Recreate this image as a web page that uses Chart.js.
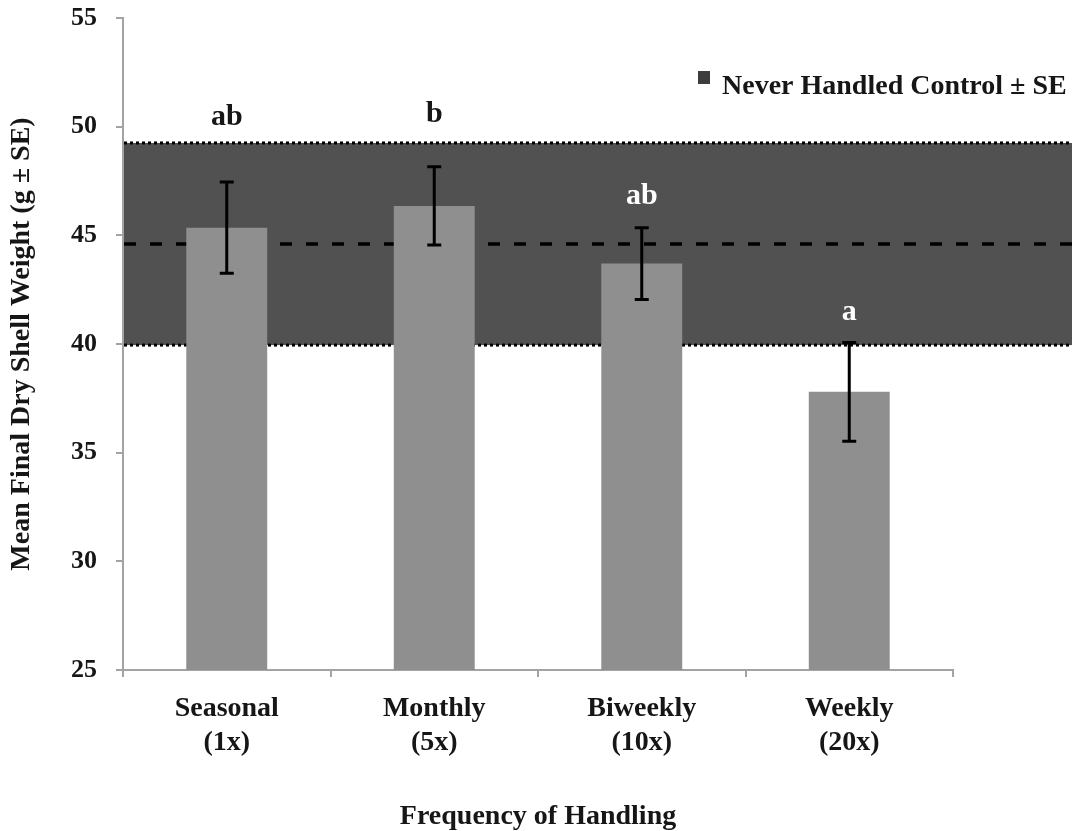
<!DOCTYPE html>
<html>
<head>
<meta charset="utf-8">
<script src="https://cdn.jsdelivr.net/npm/chart.js@4.4.1/dist/chart.umd.min.js"></script>
<style>
  html, body { margin: 0; padding: 0; background: #fff; }
  #wrap { width: 1081px; height: 831px; }
</style>
</head>
<body>
<div id="wrap"><canvas id="c" width="1081" height="831"></canvas></div>
<script>
// Handling frequency groups and their mean final dry shell weight (g) with SE
const categories = [['Seasonal', '(1x)'], ['Monthly', '(5x)'], ['Biweekly', '(10x)'], ['Weekly', '(20x)']];
const meanWeight = [45.35, 46.35, 43.7, 37.8];
const seWeight = [2.1, 1.8, 1.65, 2.27];

// Significance group letters and the y value each letter sits at
const groupLetters = ['ab', 'b', 'ab', 'a'];
const letterAt = [50.45, 50.55, 46.8, 41.45];

// Never-handled control: mean and SE (drawn as a shaded band)
const controlMean = 44.6;
const controlSE = 4.65;
const controlLabel = 'Never Handled Control \u00b1 SE';

const yTicks = [25, 30, 35, 40, 45, 50, 55];

const SERIF = '"Liberation Serif", "Times New Roman", serif';
const AXIS_GRAY = '#a3a3a3';
const TEXT = '#161616';

// Shaded control band with dotted SE edges and a dashed mean line, behind the bars
const controlBand = {
  id: 'controlBand',
  beforeDatasetsDraw(chart) {
    const { ctx, chartArea: a, scales: { y } } = chart;
    const right = chart.width - 9;
    const top = y.getPixelForValue(controlMean + controlSE);
    const bot = y.getPixelForValue(controlMean - controlSE);
    const mid = y.getPixelForValue(controlMean);
    ctx.save();
    ctx.fillStyle = '#515151';
    ctx.fillRect(a.left + 1, top, right - a.left - 1, bot - top);

    ctx.strokeStyle = '#000';
    ctx.lineWidth = 3;
    ctx.setLineDash([3, 3]);
    [top, bot].forEach(py => {
      ctx.beginPath();
      ctx.moveTo(a.left + 1, py);
      ctx.lineTo(right, py);
      ctx.stroke();
    });

    ctx.lineWidth = 3.5;
    ctx.setLineDash([12, 14]);
    ctx.beginPath();
    ctx.moveTo(a.left + 1, mid);
    ctx.lineTo(right, mid);
    ctx.stroke();
    ctx.restore();
  }
};

// Error bars (mean ± SE) and group letters above the bars
const errorBarsAndLetters = {
  id: 'errorBarsAndLetters',
  afterDatasetsDraw(chart) {
    const { ctx, scales: { y } } = chart;
    const meta = chart.getDatasetMeta(0);
    ctx.save();
    meta.data.forEach((bar, i) => {
      const x = bar.x;
      const yHi = y.getPixelForValue(meanWeight[i] + seWeight[i]);
      const yLo = y.getPixelForValue(meanWeight[i] - seWeight[i]);
      ctx.strokeStyle = '#000';
      ctx.lineWidth = 3;
      ctx.beginPath();
      ctx.moveTo(x, yHi);
      ctx.lineTo(x, yLo);
      ctx.moveTo(x - 7, yHi);
      ctx.lineTo(x + 7, yHi);
      ctx.moveTo(x - 7, yLo);
      ctx.lineTo(x + 7, yLo);
      ctx.stroke();

      const ly = y.getPixelForValue(letterAt[i]);
      const insideBand = letterAt[i] < controlMean + controlSE && letterAt[i] > controlMean - controlSE;
      ctx.fillStyle = insideBand ? '#ffffff' : TEXT;
      ctx.font = 'bold 30px ' + SERIF;
      ctx.textAlign = 'center';
      ctx.textBaseline = 'middle';
      ctx.fillText(groupLetters[i], x, ly);
    });
    ctx.restore();
  }
};

// Legend entry for the control band, top right
const controlLegend = {
  id: 'controlLegend',
  afterDraw(chart) {
    const { ctx } = chart;
    const x = chart.width - 383;
    const cy = 86;
    ctx.save();
    ctx.fillStyle = '#3d3d3d';
    ctx.fillRect(x, cy - 15, 12, 13);
    ctx.fillStyle = TEXT;
    ctx.font = 'bold 28px ' + SERIF;
    ctx.textAlign = 'left';
    ctx.textBaseline = 'middle';
    ctx.fillText(controlLabel, x + 24, cy + 1);
    ctx.restore();
  }
};

new Chart(document.getElementById('c'), {
  type: 'bar',
  data: {
    labels: categories,
    datasets: [{
      label: 'Mean final dry shell weight',
      data: meanWeight,
      backgroundColor: '#8f8f8f',
      borderWidth: 0,
      barPercentage: 0.39,
      categoryPercentage: 1.0
    }]
  },
  options: {
    responsive: false,
    animation: false,
    devicePixelRatio: 1,
    layout: { padding: { top: 18, right: 128, bottom: 0, left: 0 } },
    plugins: {
      legend: { display: false },
      tooltip: { enabled: false }
    },
    scales: {
      x: {
        grid: { display: true, drawOnChartArea: false, drawTicks: true, tickLength: 7, color: AXIS_GRAY, lineWidth: 2, offset: true },
        border: { color: AXIS_GRAY, width: 2 },
        ticks: {
          font: { family: SERIF, weight: 'bold', size: 28, lineHeight: 1.2 },
          color: TEXT, padding: 15, maxRotation: 0, autoSkip: false
        },
        title: {
          display: true, text: 'Frequency of Handling', color: TEXT,
          font: { family: SERIF, weight: 'bold', size: 28, lineHeight: 1 },
          padding: { top: 0, bottom: 0 }
        },
        afterFit(s) { s.height = 161; s.paddingLeft = 0; s.paddingRight = 0; }
      },
      y: {
        min: 25, max: 55,
        afterBuildTicks(s) { s.ticks = yTicks.map(v => ({ value: v })); },
        grid: { display: true, drawOnChartArea: false, drawTicks: true, tickLength: 7, color: AXIS_GRAY, lineWidth: 2 },
        border: { color: AXIS_GRAY, width: 2 },
        ticks: {
          font: { family: SERIF, weight: 'bold', size: 26 },
          color: TEXT, padding: 19
        },
        title: {
          display: true, text: 'Mean Final Dry Shell Weight (g \u00b1 SE)', color: TEXT,
          font: { family: SERIF, weight: 'bold', size: 28, lineHeight: 1 },
          padding: { top: 8, bottom: 0 }
        },
        afterFit(s) { s.width = 123; s.paddingTop = 0; s.paddingBottom = 0; }
      }
    }
  },
  plugins: [controlBand, errorBarsAndLetters, controlLegend]
});
</script>
</body>
</html>
